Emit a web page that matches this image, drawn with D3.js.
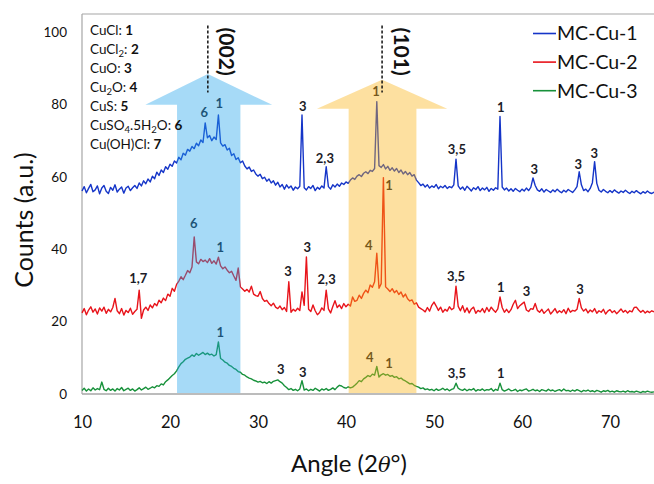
<!DOCTYPE html>
<html>
<head>
<meta charset="utf-8">
<script src="https://cdn.jsdelivr.net/npm/d3@7/dist/d3.min.js"></script>
<style>
  body { margin: 0; background: #fff; }
  svg { font-family: Lato, "Open Sans", "DejaVu Sans", sans-serif; }
</style>
</head>
<body>
<div id="chart"></div>
<script>
// XRD patterns, 2theta from 10 to 75 in 0.25 steps
var startAngle = 10, stepAngle = 0.25;

var mcCu1 = [
  56.1, 57.3, 55.6, 56.8, 57.9, 55.9, 56.4, 57.5, 55.3, 56.9, 57.6, 56.0, 55.4, 57.1, 56.3, 57.8, 55.8, 56.6, 57.2, 55.5, 56.9, 57.4, 56.2, 57.0,
  57.6, 56.8, 58.3, 57.5, 58.9, 58.1, 59.4, 58.6, 60.2, 59.5, 61.3, 60.4, 61.9, 61.2, 62.8, 62.1, 63.5, 62.9, 64.4, 63.8,
  65.4, 64.7, 66.5, 66.0, 67.6, 67.1, 68.4, 67.8, 69.3, 68.6, 70.2, 69.5,
  74.9, 70.8, 71.4, 70.0, 71.0, 70.3, 77.1, 69.4, 68.5, 68.9, 67.4, 67.9,
  65.9, 66.4, 64.8, 65.3, 63.9, 64.4, 63.0, 62.2, 62.7, 61.5, 61.9, 60.8,
  60.2, 60.7, 59.5, 59.9, 58.8, 59.4, 58.3, 58.9, 57.7, 58.5, 57.2, 57.9, 56.6, 57.8, 56.9, 57.5, 56.3, 57.2, 56.7, 57.4,
  77.1, 57.0,
  56.4, 57.3, 56.8, 57.6, 56.2, 57.1, 56.6, 57.5, 56.9,
  62.8,
  57.3, 56.6, 57.8, 57.2, 58.0, 57.4, 58.3, 57.9,
  58.6, 58.2, 59.1, 59.7, 59.3, 60.2, 60.6, 60.1, 61.0, 61.4, 60.9, 61.8, 61.5, 62.3,
  80.8,
  63.1, 62.6, 63.4, 62.2, 62.9, 61.8, 62.5, 61.6, 62.3, 61.2, 61.9, 60.8, 61.5, 60.6, 61.2, 60.2, 60.6,
  59.1, 58.4, 57.6, 58.0, 57.2, 57.8, 56.9, 57.5, 57.1, 57.9, 56.7, 57.4, 57.0, 57.6, 56.8, 57.3, 57.0, 57.8,
  64.9,
  57.5, 56.6, 57.2, 56.3, 57.4, 56.8, 56.1, 57.0, 56.5, 57.3, 56.2, 56.9, 56.4, 57.1, 56.0, 56.8, 56.3, 57.0, 56.6,
  76.7,
  57.2, 56.4, 56.9, 56.1, 56.7, 56.0, 56.8, 56.3, 55.9, 56.6, 56.1, 56.9, 56.2, 57.1,
  59.7, 57.6,
  56.4, 56.0, 56.7, 55.8, 56.5, 56.1, 55.7, 56.4, 55.9, 56.6, 56.0, 55.6, 56.3, 55.8, 56.5, 56.1, 55.7, 56.4, 57.3,
  61.4, 57.8,
  56.2, 56.6, 55.9, 56.8, 58.4,
  64.2, 58.2,
  56.3, 55.8, 56.5, 56.0, 55.6, 56.2, 55.7, 56.4, 55.9, 55.5, 56.1, 55.7, 56.3, 55.8, 55.4, 56.0, 55.6, 56.2, 55.7, 55.3, 55.9, 55.5, 56.1, 55.6, 55.4, 55.8
];

var mcCu2 = [
  22.4, 23.6, 21.9, 23.2, 24.1, 22.6, 23.5, 22.1, 23.8, 22.9, 24.0, 22.3, 23.4, 22.7, 23.9,
  26.4,
  23.0, 22.2, 23.6, 21.8, 23.1, 22.5, 23.7, 22.0, 22.8, 23.4,
  28.7, 20.9,
  23.2, 24.0, 23.1, 24.6, 23.8, 25.0, 24.4, 25.9, 25.2,
  26.5, 25.8, 27.6, 27.0, 29.2, 28.4, 30.3, 31.2, 32.4, 31.6, 32.8,
  34.1, 33.5, 35.1,
  43.4,
  36.5, 36.0, 37.2, 36.6, 37.0, 36.3, 37.4, 36.1, 36.8, 35.9,
  37.8,
  35.4, 34.6, 35.1, 34.2, 33.5, 33.9, 32.6, 31.4,
  34.8,
  29.6, 29.0, 28.4, 28.9, 28.2,
  29.8, 27.6, 27.2,
  27.0, 28.3, 26.4, 25.6, 25.9,
  25.0, 24.4, 25.1, 24.0, 23.6, 24.3, 23.3, 23.9, 22.8,
  31.0, 22.6,
  23.4, 22.9, 23.7, 23.1,
  28.2, 24.5, 37.9, 23.4,
  22.8, 24.6, 23.0, 21.9, 22.5, 23.8, 23.1,
  28.7,
  23.5, 22.4, 24.2, 25.8, 23.9, 24.6, 23.6, 25.0, 24.1, 24.8,
  24.3, 26.8, 25.6, 25.9, 27.3, 26.4, 27.8, 28.7, 28.0, 30.1, 29.5, 31.0,
  38.9, 29.2, 30.5, 59.8, 29.6,
  29.0, 28.3, 29.1, 28.0, 28.6, 27.5, 28.2, 26.8, 27.6, 26.3, 25.7, 26.0, 24.8, 25.2, 24.0, 23.6, 23.2,
  22.7, 23.9, 22.9, 24.5, 25.4, 24.3, 23.1, 24.0, 22.6, 23.4, 22.9, 24.1, 23.3, 23.7,
  29.8,
  24.2, 23.0, 24.4, 22.6, 23.8, 22.4, 23.5, 24.0, 22.3, 23.1, 22.7, 23.6,
  22.5, 23.9, 22.8, 24.0, 23.2, 22.6, 23.5,
  26.8,
  23.9, 22.6, 23.4, 22.5, 23.3,
  24.8, 25.9, 23.6, 24.4, 24.9, 25.4, 23.2,
  22.8, 23.6, 23.4,
  25.0, 23.1,
  22.6, 23.4, 22.3, 22.9, 23.5, 22.1, 22.8, 23.6, 22.4, 23.0, 22.5, 23.3, 22.2, 23.7, 22.6, 23.1, 22.9, 23.4,
  26.4,
  23.8, 22.9, 23.5, 22.4, 23.2, 22.7, 23.6, 22.3, 23.0, 22.6, 23.4, 22.1, 22.9, 23.3, 22.5, 23.0, 22.2, 22.8, 23.5, 22.6,
  23.1, 22.4, 23.0, 22.7, 23.9, 24.0, 23.2, 22.6, 23.1, 22.4, 22.9, 22.5, 23.0, 22.7
];

var mcCu3 = [
  1.0, 1.6, 0.8, 1.4, 0.9, 1.7, 1.1, 1.5, 1.2,
  3.3,
  1.3, 0.9, 1.6, 1.0, 1.4, 0.8, 1.5, 1.1, 1.8, 0.9, 1.3, 1.6, 1.0, 1.4, 0.8, 1.2, 1.7, 1.1, 1.5, 1.9, 1.3, 1.6, 2.0, 1.7, 2.3, 2.1,
  2.8, 2.5, 3.4, 3.9, 4.5, 5.1, 5.6, 6.4, 7.5, 8.4, 8.9, 9.6,
  9.9, 10.2, 10.8, 10.4, 11.2, 10.7, 11.1, 11.5, 10.9, 11.3, 10.8, 11.0, 10.5, 10.9,
  14.4,
  9.8, 9.4, 8.8, 8.5, 7.9, 7.6, 7.1, 6.8, 6.2, 6.0, 5.4, 5.2,
  4.7, 4.4, 4.2, 3.8, 3.6, 3.3, 3.5, 3.1, 3.3, 2.9, 3.4, 3.0, 3.5,
  3.7, 3.9, 3.4, 3.0,
  2.3, 1.8, 1.2, 1.5, 1.0, 1.3, 0.9, 1.4,
  3.7,
  1.1, 1.4, 0.9, 1.3, 1.0, 1.6, 1.2, 0.8, 1.4, 1.1, 1.5, 1.0, 1.3, 1.7, 1.2, 1.9, 2.4, 2.2, 1.8, 1.6, 2.0, 1.7, 1.9,
  2.4, 3.0, 3.7, 3.4, 4.2, 4.6, 5.1, 4.8, 5.5, 5.2,
  7.6,
  4.7, 5.3, 5.6, 5.2, 5.4, 4.9, 5.1, 4.6, 4.8, 4.2, 4.4,
  3.9, 3.6, 3.2, 2.8, 2.9, 2.4, 2.1, 1.9, 1.5, 1.7, 1.2, 1.4, 1.1,
  1.3, 0.9, 1.4, 1.0, 1.2, 1.6, 1.1, 1.4, 0.9, 1.3, 1.5,
  3.0,
  1.6, 1.2, 1.0, 1.4, 0.9, 1.3, 1.1, 1.5, 0.8, 1.2, 1.0, 1.4, 0.9, 1.2, 1.1, 1.5, 0.8, 1.3, 1.0,
  3.0,
  1.2, 0.8, 1.1, 1.4, 0.9, 1.0, 1.3, 0.7, 1.1, 0.9, 1.2, 1.4, 0.8, 1.0, 1.3, 0.9, 1.1, 0.7, 1.2, 1.0,
  0.8, 1.3, 0.9, 1.1, 0.7, 1.0, 1.2, 0.8, 1.4, 0.9, 1.0, 0.7, 1.1, 0.8, 1.2, 0.9, 0.6, 1.0, 0.8, 1.1,
  0.7, 0.9, 0.6, 1.0, 0.8, 0.5, 0.9, 0.7, 1.0, 0.6, 0.8, 0.5, 0.9, 0.7, 0.6, 0.8, 0.5, 0.9, 0.6, 0.7,
  0.5, 0.8, 0.6, 0.4, 0.7, 0.5, 0.8, 0.6, 0.5, 0.6
];

var seriesNames = ["MC-Cu-1", "MC-Cu-2", "MC-Cu-3"];
var seriesColors = ["#1535c8", "#e8141b", "#17913a"];
var xTicks = [10, 20, 30, 40, 50, 60, 70];
var yTicks = [0, 20, 40, 60, 80, 100];

// phase labels above peaks: [angle, value, text]
var peaks1 = [[23.9, 77.7, "6"], [25.6, 80.2, "1"], [35.1, 79.6, "3"], [37.6, 65.2, "2,3"], [43.4, 83.5, "1"],
  [52.6, 67.7, "3,5"], [57.6, 79.1, "1"], [61.4, 62.2, "3"], [66.4, 63.6, "3"], [68.2, 66.6, "3"]];
var peaks2 = [[16.4, 32.0, "1,7"], [22.7, 47.2, "6"], [25.7, 40.6, "1"], [33.4, 33.9, "3"], [35.6, 40.6, "3"],
  [37.8, 31.7, "2,3"], [42.6, 41.1, "4"], [44.9, 57.7, "1"], [52.5, 32.5, "3,5"], [57.6, 29.5, "1"],
  [60.5, 28.4, "3"], [66.6, 28.9, "3"]];
var peaks3 = [[25.7, 17.0, "1"], [32.6, 6.8, "3"], [35.1, 6.0, "3"], [42.7, 10.1, "4"], [44.9, 8.4, "1"],
  [52.6, 5.7, "3,5"], [57.6, 5.7, "1"]];

// phase key, {x} marks a subscript
var phaseNames = ["CuCl", "CuCl{2}", "CuO", "Cu{2}O", "CuS", "CuSO{4}.5H{2}O", "Cu(OH)Cl"];
var phaseIds = ["1", "2", "3", "4", "5", "6", "7"];

// highlighted regions: shaft [from, to], head [from, to], head base, tip angle, tip value
var arrow002 = {shaft: [20.8, 28.0], head: [17.2, 31.6], base: 79.9, tip: [24.3, 88.4], plane: "(002)"};
var arrow101 = {shaft: [40.3, 48.0], head: [36.7, 51.5], base: 78.8, tip: [44.1, 86.8], plane: "(101)"};

var svgW = 654, svgH = 484;
var margin = {top: 14, right: 0, bottom: 90, left: 82};
var width = svgW - margin.left - margin.right;
var height = svgH - margin.top - margin.bottom;

var svg = d3.select("#chart").append("svg")
  .attr("width", svgW)
  .attr("height", svgH);

var chartGroup = svg.append("g")
  .attr("transform", `translate(${margin.left}, ${margin.top})`);

var x = d3.scaleLinear().domain([10, 75]).range([0, width]);
var y = d3.scaleLinear().domain([0, 105]).range([height, 0]);

// frame
chartGroup.append("line").attr("x1", 0).attr("x2", width).attr("y1", 0).attr("y2", 0)
  .attr("stroke", "#a6a6a6").attr("stroke-width", 1.2);
chartGroup.append("line").attr("x1", 0).attr("x2", 0).attr("y1", 0).attr("y2", height)
  .attr("stroke", "#a6a6a6").attr("stroke-width", 1.2);
chartGroup.append("line").attr("x1", 0).attr("x2", width).attr("y1", height).attr("y2", height)
  .attr("stroke", "#a6a6a6").attr("stroke-width", 1.6);

// axes
var bottomAxis = d3.axisBottom(x).tickValues(xTicks).tickSize(0).tickPadding(22);
var leftAxis = d3.axisLeft(y).tickValues(yTicks).tickSize(0).tickPadding(15);

var xg = chartGroup.append("g").attr("transform", `translate(0, ${height})`).call(bottomAxis);
xg.select(".domain").remove();
xg.selectAll("text").attr("font-size", 16.5).attr("font-family", "Lato, sans-serif").attr("fill", "#111");

var yg = chartGroup.append("g").call(leftAxis);
yg.select(".domain").remove();
yg.selectAll("text").attr("font-size", 13.5).attr("font-family", "Lato, sans-serif").attr("fill", "#111");

// series
var allSeries = [mcCu1, mcCu2, mcCu3];
var line = d3.line()
  .x((d, i) => x(startAngle + i * stepAngle))
  .y(d => y(d));

allSeries.forEach(function(s, k) {
  chartGroup.append("path")
    .datum(s)
    .attr("fill", "none")
    .attr("stroke", seriesColors[k])
    .attr("stroke-width", 1.4)
    .attr("stroke-linejoin", "round")
    .attr("d", line);
});

// peak labels
[peaks1, peaks2, peaks3].forEach(function(p) {
  chartGroup.selectAll(null)
    .data(p)
    .enter()
    .append("text")
    .attr("x", d => x(d[0]))
    .attr("y", d => y(d[1]))
    .attr("dy", "0.36em")
    .attr("text-anchor", "middle")
    .attr("font-size", 13)
    .attr("font-weight", "bold")
    .attr("fill", "#1c1c28")
    .text(d => d[2]);
});

// arrows drawn translucent over the patterns
function drawArrow(a, color) {
  var pts = [
    [a.shaft[0], 0.3], [a.shaft[0], a.base], [a.head[0], a.base], [a.tip[0], a.tip[1]],
    [a.head[1], a.base], [a.shaft[1], a.base], [a.shaft[1], 0.3]
  ];
  chartGroup.append("polygon")
    .attr("points", pts.map(p => x(p[0]) + "," + y(p[1])).join(" "))
    .attr("fill", color);

  chartGroup.append("line")
    .attr("x1", x(a.tip[0])).attr("x2", x(a.tip[0]))
    .attr("y1", y(101.8)).attr("y2", y(83.3))
    .attr("stroke", "#111")
    .attr("stroke-width", 1.5)
    .attr("stroke-dasharray", "3,2");

  chartGroup.append("text")
    .attr("transform", `translate(${x(a.tip[0]) + 19}, ${y(94.6)}) rotate(90)`)
    .attr("text-anchor", "middle")
    .attr("dy", "0.35em")
    .attr("font-size", 21)
    .attr("font-weight", "bold")
    .attr("fill", "#111")
    .text(a.plane);
}
drawArrow(arrow002, "rgba(32,162,235,0.4)");
drawArrow(arrow101, "rgba(250,177,17,0.4)");

// phase key
phaseNames.forEach(function(name, i) {
  var t = svg.append("text")
    .attr("x", 90)
    .attr("y", 34.5 + i * 19.1)
    .attr("font-size", 13.5)
    .attr("fill", "#111");
  var parts = name.split(/(\{[^}]*\})/).filter(s => s.length);
  var lowered = false;
  parts.forEach(function(part) {
    if (part[0] === "{") {
      t.append("tspan").attr("font-size", 9.5).attr("dy", 3).text(part.slice(1, -1));
      lowered = true;
    } else {
      t.append("tspan").attr("dy", lowered ? -3 : 0).text(part);
      lowered = false;
    }
  });
  t.append("tspan").attr("dy", lowered ? -3 : 0).text(": ");
  t.append("tspan").attr("font-weight", "bold").text(phaseIds[i]);
});

// legend
seriesNames.forEach(function(name, i) {
  var ly = 33.5 + i * 28.6;
  svg.append("line")
    .attr("x1", 533).attr("x2", 556)
    .attr("y1", ly).attr("y2", ly)
    .attr("stroke", seriesColors[i])
    .attr("stroke-width", 1.6);
  svg.append("text")
    .attr("x", 557)
    .attr("y", ly + 6.8)
    .attr("font-size", 19.5)
    .attr("fill", "#111")
    .text(name);
});

// axis titles
svg.append("text")
  .attr("transform", "translate(33, 220) rotate(-90)")
  .attr("text-anchor", "middle")
  .attr("font-size", 25)
  .attr("fill", "#111")
  .text("Counts (a.u.)");

var xt = svg.append("text")
  .attr("x", 349)
  .attr("y", 472)
  .attr("text-anchor", "middle")
  .attr("font-size", 24)
  .attr("fill", "#111");
xt.append("tspan").text("Angle (2");
xt.append("tspan").attr("font-style", "italic").attr("font-family", "'DejaVu Serif', serif").attr("font-size", 21).text("θ");
xt.append("tspan").text("°)");
</script>
</body>
</html>
